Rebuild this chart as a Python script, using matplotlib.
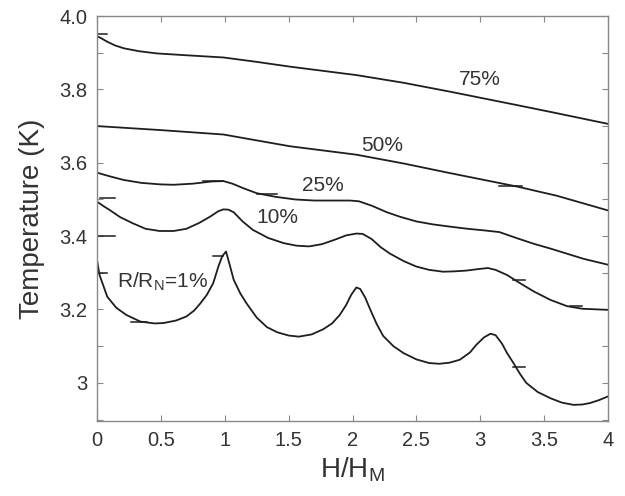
import matplotlib
matplotlib.use("Agg")
import matplotlib.pyplot as plt
from matplotlib.ticker import MultipleLocator

plt.rcParams['font.family'] = ['Liberation Sans', 'DejaVu Sans']
plt.rcParams['mathtext.default'] = 'regular'

# curves: H/H_M vs temperature (K)
x75 = [0.0, 0.03, 0.08, 0.14, 0.21, 0.33, 0.47, 0.7, 0.99, 1.25, 1.51, 2.03, 2.4, 2.76, 3.29, 3.6, 4.0]
y75 = [3.945, 3.940, 3.930, 3.920, 3.912, 3.904, 3.898, 3.893, 3.887, 3.875, 3.862, 3.839, 3.818,
       3.794, 3.757, 3.735, 3.706]

x50 = [0.0, 0.5, 0.99, 1.2, 1.51, 2.03, 2.4, 2.76, 3.29, 3.6, 4.0]
y50 = [3.700, 3.689, 3.677, 3.664, 3.645, 3.622, 3.598, 3.572, 3.535, 3.510, 3.470]

x25 = [0.0, 0.1, 0.21, 0.35, 0.5, 0.6, 0.75, 0.9, 0.99, 1.06, 1.15, 1.25, 1.4, 1.55, 1.7, 1.85,
       1.98, 2.05, 2.15, 2.27, 2.37, 2.5, 2.63, 2.76, 2.9, 3.02, 3.15, 3.29, 3.42, 3.55, 3.68,
       3.81, 4.0]
y25 = [3.573, 3.563, 3.553, 3.545, 3.541, 3.540, 3.543, 3.549, 3.550, 3.543, 3.530, 3.517, 3.507,
       3.500, 3.497, 3.497, 3.497, 3.495, 3.483, 3.465, 3.453, 3.440, 3.432, 3.426, 3.420, 3.416,
       3.411, 3.394, 3.379, 3.366, 3.352, 3.338, 3.322]

x10 = [0.0, 0.05, 0.1, 0.18, 0.28, 0.38, 0.49, 0.6, 0.7, 0.8, 0.885, 0.95, 0.99, 1.03, 1.07, 1.14,
       1.22, 1.34, 1.46, 1.56, 1.66, 1.76, 1.86, 1.95, 2.03, 2.08, 2.15, 2.22, 2.29, 2.4, 2.5, 2.6,
       2.71, 2.8, 2.89, 2.98, 3.06, 3.12, 3.21, 3.31, 3.42, 3.55, 3.68, 3.8, 4.0]
y10 = [3.494, 3.482, 3.471, 3.452, 3.435, 3.420, 3.414, 3.414, 3.420, 3.436, 3.453, 3.468, 3.473,
       3.472, 3.465, 3.440, 3.417, 3.395, 3.381, 3.374, 3.372, 3.378, 3.390, 3.402, 3.407, 3.406,
       3.392, 3.370, 3.353, 3.332, 3.317, 3.308, 3.303, 3.304, 3.306, 3.310, 3.313, 3.308, 3.294,
       3.272, 3.249, 3.226, 3.209, 3.202, 3.199]

x1 = [0.0, 0.02, 0.08, 0.15, 0.23, 0.34, 0.45, 0.52, 0.62, 0.7, 0.76, 0.81, 0.86, 0.91, 0.95, 0.98,
      1.01, 1.04, 1.07, 1.12, 1.17, 1.25, 1.33, 1.41, 1.5, 1.58, 1.68, 1.77, 1.84, 1.9, 1.95, 1.99,
      2.03, 2.06, 2.1, 2.14, 2.19, 2.24, 2.32, 2.4, 2.5, 2.6, 2.68, 2.76, 2.84, 2.92, 2.97, 3.03,
      3.08, 3.12, 3.17, 3.21, 3.26, 3.31, 3.36, 3.45, 3.55, 3.64, 3.73, 3.8, 3.86, 3.93, 4.0]
y1 = [3.335, 3.294, 3.235, 3.205, 3.185, 3.167, 3.162, 3.163, 3.170, 3.181, 3.197, 3.217, 3.240,
      3.272, 3.317, 3.345, 3.358, 3.320, 3.281, 3.245, 3.217, 3.178, 3.152, 3.138, 3.129, 3.126,
      3.132, 3.146, 3.162, 3.185, 3.212, 3.240, 3.260, 3.256, 3.232, 3.199, 3.160, 3.128, 3.100,
      3.081, 3.064, 3.054, 3.052, 3.055, 3.063, 3.083, 3.104, 3.124, 3.134, 3.130, 3.107, 3.081,
      3.054, 3.025, 3.000, 2.975, 2.958, 2.946, 2.940, 2.941, 2.945, 2.953, 2.963]

# short horizontal glitches in the traces: (x start, x end, T)
glitches = [(0.0, 0.08, 3.950), (0.02, 0.14, 3.504), (0.0, 0.14, 3.400), (0.0, 0.08, 3.300),
            (0.27, 0.39, 3.166), (0.83, 0.99, 3.549), (1.25, 1.41, 3.515), (3.26, 3.35, 3.281),
            (3.26, 3.35, 3.044), (0.91, 0.99, 3.346), (3.15, 3.33, 3.537), (3.7, 3.8, 3.209)]

curve_labels = ['75%', '50%', '25%', '10%', 'R/R$_N$=1%']
label_x = [3.0, 2.23, 1.77, 1.41, 0.51]
label_y = [3.826, 3.646, 3.537, 3.45, 3.275]

xticks = [0, 0.5, 1, 1.5, 2, 2.5, 3, 3.5, 4]
xticklabels = ['0', '0.5', '1', '1.5', '2', '2.5', '3', '3.5', '4']
yticks = [3.0, 3.2, 3.4, 3.6, 3.8, 4.0]
yticklabels = ['3', '3.2', '3.4', '3.6', '3.8', '4.0']

fig = plt.figure(figsize=(6.25, 4.96), dpi=100)
ax = fig.add_axes([0.1552, 0.1512, 0.8176, 0.8165])

lc = '#1e1e1e'
for xs, ys in [(x75, y75), (x50, y50), (x25, y25), (x10, y10), (x1, y1)]:
    ax.plot(xs, ys, color=lc, lw=1.3)
for x0, x1_, t in glitches:
    ax.plot([x0, x1_], [t, t], color=lc, lw=1.1)

for txt, tx, ty in zip(curve_labels, label_x, label_y):
    ax.text(tx, ty, txt, fontsize=15, color='#333333', ha='center', va='center')

ax.set_xlim(0, 4)
ax.set_ylim(2.896, 4.0)
ax.set_xticks(xticks)
ax.set_xticklabels(xticklabels)
ax.set_yticks(yticks)
ax.set_yticklabels(yticklabels)
ax.yaxis.set_minor_locator(MultipleLocator(0.1))
ax.tick_params(which='both', direction='in', top=True, right=True, length=4,
               width=0.8, color='#888888', labelsize=14.5, labelcolor='#333333', pad=7)

for s in ax.spines.values():
    s.set_color('#888888')
    s.set_linewidth(1.0)

ax.set_xlabel('H/H$_M$', fontsize=20, color='#333333', labelpad=4)
ax.set_ylabel('Temperature (K)', fontsize=20, color='#333333', labelpad=10)

fig.savefig('out.png', dpi=100)
